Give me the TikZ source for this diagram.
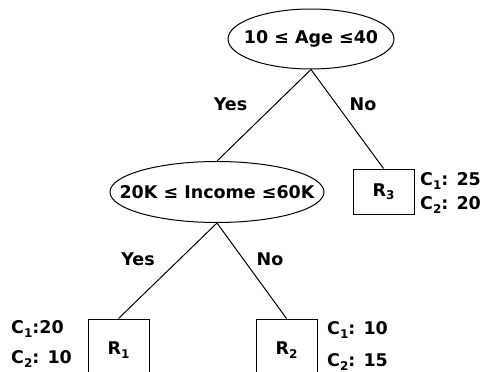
\documentclass[tikz,border=0pt]{standalone}
\usepackage{fontspec}
\setmainfont{DejaVu Sans}
\usetikzlibrary{shapes.geometric}
\newcommand\mysub[1]{\raisebox{-0.35ex}{\fontsize{12}{12}\selectfont #1}}
\tikzset{
  lbl/.style={font=\bfseries\fontsize{17.5}{19}\selectfont, inner sep=0pt},
  split/.style={ellipse, draw, line width=1pt, inner sep=0pt},
  inlbl/.style={font=\bfseries\fontsize{17.5}{19}\selectfont, inner sep=0pt},
  leaf/.style={draw, line width=1pt, inner sep=0pt, font=\bfseries\fontsize{17.5}{19}\selectfont},
  conn/.style={line width=1pt}
}
\begin{document}
\begin{tikzpicture}[x=1pt,y=-1pt]
\useasboundingbox (0,0) rectangle (483,372);
\node[split, minimum width=166pt, minimum height=60pt] (age) at (311,39) {};
\node[inlbl] (agetext) at (age.center) {10 ≤ Age ≤40};
\node[split, minimum width=214pt, minimum height=61pt] (inc) at (217,192) {};
\node[inlbl] (inctext) at (inc.center) {20K ≤ Income ≤60K};
\node[leaf, minimum width=61pt, minimum height=45pt] (r3) at (383.5,191.5) {R\mysub{3}};
\node[leaf, minimum width=61pt, minimum height=62pt] (r1) at (118.5,350) {R\mysub{1}};
\node[leaf, minimum width=61pt, minimum height=62pt] (r2) at (286.5,350) {R\mysub{2}};
\draw[conn] (age.south) -- (inc.north);
\draw[conn] (age.south) -- (r3.north);
\draw[conn] (inc.south) -- (r1.north);
\draw[conn] (inc.south) -- (r2.north);
\node[lbl] (y1) at (230.5,104) {Yes};
\node[lbl] (n1) at (363,104) {No};
\node[lbl] (y2) at (138,259) {Yes};
\node[lbl] (n2) at (270,259) {No};
\node[lbl, anchor=west] (c31) at (420,181) {C\mysub{1}: 25};
\node[lbl, anchor=west] (c32) at (420,205) {C\mysub{2}: 20};
\node[lbl, anchor=west] (c11) at (11,329) {C\mysub{1}:20};
\node[lbl, anchor=west] (c12) at (11,359) {C\mysub{2}: 10};
\node[lbl, anchor=west] (c21) at (327,330) {C\mysub{1}: 10};
\node[lbl, anchor=west] (c22) at (327,362) {C\mysub{2}: 15};
\end{tikzpicture}
\end{document}
